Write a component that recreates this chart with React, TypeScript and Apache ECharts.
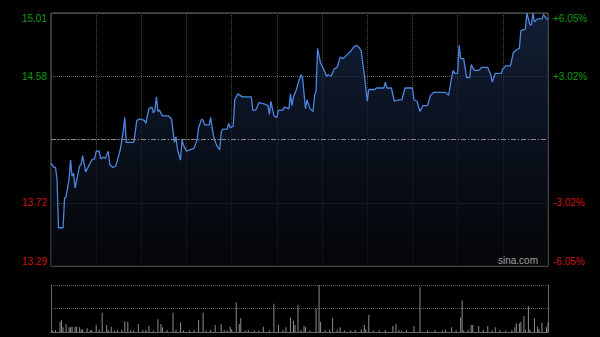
import React, { useEffect, useRef } from 'react';
import * as echarts from 'echarts';

// Intraday minute index (0 = 09:30, 150 = 12:00/13:00, 330 = 16:00)
const MINUTES = [
  0, 2, 3, 4, 5, 8, 9, 10, 12, 13, 14, 15, 16, 19, 20, 21, 23, 25, 27, 29,
  30, 32, 33, 35, 36, 38, 39, 41, 43, 46, 48, 49, 50, 52, 55, 57, 59, 62, 63, 65,
  67, 68, 69, 70, 71, 72, 74, 78, 80, 81, 82, 83, 84, 86, 87, 88, 90, 92, 95, 97,
  98, 100, 101, 102, 105, 106, 107, 108, 110, 112, 113, 114, 117, 118, 119, 121, 122, 124, 127, 133,
  134, 136, 138, 142, 144, 145, 146, 148, 150, 151, 154, 155, 158, 159, 160, 161, 163, 164, 166, 167,
  169, 170, 172, 174, 175, 176, 177, 179, 181, 183, 184, 186, 188, 190, 192, 194, 196, 199, 201, 203,
  205, 206, 208, 210, 211, 215, 216, 221, 222, 223, 226, 228, 231, 233, 235, 240, 241, 243, 245, 247,
  250, 252, 254, 262, 263, 264, 266, 267, 268, 270, 271, 272, 274, 276, 278, 279, 281, 284, 286, 290,
  292, 293, 295, 299, 300, 302, 305, 307, 309, 311, 312, 315, 316, 318, 319, 320, 321, 323, 326, 327,
  329, 330,
];
const PRICES = [
  13.99, 13.96, 13.96, 13.88, 13.55, 13.55, 13.75, 13.76, 13.88, 14.01, 13.9, 13.92, 13.82, 13.97, 13.98, 14.04, 13.93, 13.97, 14.01, 14.02,
  14.07, 14.07, 14.02, 14.03, 14.02, 14.07, 13.98, 13.96, 13.97, 14.08, 14.21, 14.3, 14.13, 14.13, 14.13, 14.28, 14.29, 14.28, 14.26, 14.36,
  14.37, 14.33, 14.35, 14.44, 14.34, 14.35, 14.31, 14.31, 14.29, 14.21, 14.13, 14.17, 14.08, 14.01, 14.15, 14.11, 14.07, 14.08, 14.09, 14.15,
  14.23, 14.29, 14.28, 14.25, 14.25, 14.3, 14.23, 14.17, 14.11, 14.08, 14.2, 14.22, 14.22, 14.26, 14.23, 14.24, 14.42, 14.46, 14.44, 14.44,
  14.35, 14.35, 14.4, 14.39, 14.38, 14.32, 14.41, 14.31, 14.3, 14.35, 14.35, 14.37, 14.36, 14.46, 14.38, 14.44, 14.49, 14.53, 14.59, 14.57,
  14.36, 14.42, 14.36, 14.34, 14.45, 14.48, 14.77, 14.67, 14.63, 14.58, 14.59, 14.58, 14.63, 14.64, 14.71, 14.7, 14.72, 14.75, 14.78, 14.79,
  14.77, 14.75, 14.59, 14.41, 14.49, 14.49, 14.5, 14.5, 14.54, 14.5, 14.5, 14.41, 14.42, 14.42, 14.5, 14.5, 14.42, 14.41, 14.34, 14.38,
  14.38, 14.45, 14.47, 14.47, 14.46, 14.45, 14.57, 14.62, 14.6, 14.6, 14.79, 14.7, 14.7, 14.57, 14.57, 14.66, 14.62, 14.62, 14.64, 14.64,
  14.59, 14.54, 14.6, 14.6, 14.63, 14.65, 14.65, 14.74, 14.76, 14.77, 14.89, 14.9, 15.01, 14.93, 14.93, 15.01, 14.95, 14.97, 14.97, 15.0,
  14.97, 14.97,
];

const VOL_MINUTES = [
  1, 3, 6, 7, 8, 10, 12, 13, 14, 16, 17, 19, 20, 21, 24, 26, 27, 30, 32, 34,
  37, 38, 40, 42, 44, 47, 49, 51, 53, 55, 58, 61, 63, 65, 68, 71, 73, 74, 77, 81,
  83, 86, 88, 92, 95, 98, 101, 103, 106, 109, 113, 115, 117, 119, 120, 123, 125, 126, 129, 131,
  135, 138, 141, 145, 148, 151, 154, 156, 159, 161, 162, 164, 166, 168, 169, 172, 176, 178, 179, 182,
  185, 187, 190, 192, 195, 199, 202, 206, 208, 209, 211, 214, 218, 222, 227, 229, 231, 233, 236, 241,
  245, 250, 255, 260, 262, 266, 269, 272, 273, 274, 277, 279, 280, 284, 287, 290, 293, 295, 298, 302,
  306, 308, 309, 311, 312, 314, 315, 317, 318, 321, 323, 324, 326, 329, 330,
];
const VOLUMES = [
  30, 40, 220, 260, 100, 170, 100, 100, 110, 110, 110, 100, 50, 60, 80, 30, 40, 150, 40, 410,
  150, 40, 110, 30, 40, 40, 230, 220, 40, 30, 170, 40, 40, 130, 30, 270, 170, 100, 40, 410,
  50, 200, 30, 30, 40, 260, 410, 30, 40, 150, 170, 40, 30, 110, 60, 630, 170, 290, 30, 40,
  30, 30, 110, 30, 600, 150, 40, 100, 310, 240, 150, 570, 40, 130, 100, 30, 500, 1000, 220, 40,
  50, 290, 50, 100, 30, 30, 40, 60, 150, 60, 360, 30, 30, 40, 130, 170, 40, 30, 50, 130,
  950, 30, 40, 30, 50, 100, 30, 310, 670, 30, 40, 150, 150, 130, 40, 130, 30, 100, 40, 30,
  40, 100, 180, 180, 220, 340, 50, 550, 50, 290, 110, 60, 200, 100, 200,
];

const LEFT_TICKS = ['13.29', '13.72', '14.15', '14.58', '15.01'];
const RIGHT_TICKS = ['-6.05%', '-3.02%', '', '+3.02%', '+6.05%'];
const MID_PRICE = 14.15;
const STEP = 0.43;
const SESSION_MINUTES = 330;
const VOL_MAX = 1000;

const GREEN = '#109a10';
const RED = '#d01212';

export default function App() {
  const ref = useRef<HTMLDivElement>(null);

  useEffect(() => {
    if (!ref.current) return;
    const chart = echarts.init(ref.current, undefined, { renderer: 'svg' });

    const priceData = MINUTES.map((m, i) => [m, PRICES[i] - MID_PRICE]);
    const volData = VOL_MINUTES.map((m, i) => [m, VOLUMES[i]]);
    const idx = (v: number) => Math.round(v / STEP) + 2;

    const labelFont = {
      fontFamily: 'Liberation Sans, Arial, sans-serif',
      fontSize: 10,
    };

    chart.setOption({
      animation: false,
      backgroundColor: '#000000',
      grid: [
        { left: 51, right: 52, top: 13, height: 253, show: true, borderColor: '#666', borderWidth: 1, backgroundColor: 'transparent' },
        { left: 51, right: 52, top: 285, height: 47 },
      ],
      xAxis: [
        {
          type: 'value', gridIndex: 0, min: 0, max: SESSION_MINUTES, interval: 30,
          axisLine: { show: false }, axisTick: { show: false }, axisLabel: { show: false },
          splitLine: { show: true, lineStyle: { color: '#4a4a4a', type: 'dotted', width: 1 } },
        },
        {
          type: 'value', gridIndex: 1, min: 0, max: SESSION_MINUTES,
          axisLine: { show: true, onZero: false, lineStyle: { color: '#666', width: 1 } },
          axisTick: { show: false }, axisLabel: { show: false }, splitLine: { show: false },
        },
      ],
      yAxis: [
        {
          type: 'value', gridIndex: 0, position: 'left', min: -2 * STEP, max: 2 * STEP, interval: STEP,
          axisLine: { show: false }, axisTick: { show: false },
          axisLabel: {
            ...labelFont, margin: 4,
            verticalAlignMaxLabel: 'top', verticalAlignMinLabel: 'bottom',
            formatter: (v: number) => (idx(v) === 2 ? '' : LEFT_TICKS[idx(v)]),
            color: (v: number) => (idx(v) > 2 ? GREEN : RED),
          },
          splitLine: { show: true, lineStyle: { color: '#5a5a5a', type: 'dotted', width: 1 } },
        },
        {
          type: 'value', gridIndex: 0, position: 'right', min: -2 * STEP, max: 2 * STEP, interval: STEP,
          axisLine: { show: false }, axisTick: { show: false }, splitLine: { show: false },
          axisLabel: {
            ...labelFont, margin: 5,
            verticalAlignMaxLabel: 'top', verticalAlignMinLabel: 'bottom',
            formatter: (v: number) => RIGHT_TICKS[idx(v)],
            color: (v: number) => (idx(v) > 2 ? GREEN : RED),
          },
        },
        {
          type: 'value', gridIndex: 1, position: 'left', min: 0, max: VOL_MAX, interval: VOL_MAX / 2,
          axisLine: { show: true, lineStyle: { color: '#666', width: 1 } },
          axisTick: { show: false }, axisLabel: { show: false },
          splitLine: { show: true, lineStyle: { color: '#5a5a5a', type: 'dotted', width: 1 } },
        },
        {
          type: 'value', gridIndex: 1, position: 'right', min: 0, max: VOL_MAX,
          axisLine: { show: true, lineStyle: { color: '#666', width: 1 } },
          axisTick: { show: false }, axisLabel: { show: false }, splitLine: { show: false },
        },
      ],
      series: [
        {
          type: 'line', xAxisIndex: 0, yAxisIndex: 0, data: priceData,
          showSymbol: false, symbol: 'none',
          lineStyle: { color: '#4d86e0', width: 1.3 },
          areaStyle: {
            origin: 'start',
            color: new echarts.graphic.LinearGradient(0, 0, 0, 1, [
              { offset: 0, color: '#1a2c4c' },
              { offset: 0.5, color: '#0e1729' },
              { offset: 1, color: '#06080b' },
            ]),
          },
          markLine: {
            silent: true, symbol: 'none', animation: false,
            label: { show: false },
            lineStyle: { color: '#8a8a8a', type: [5, 2, 1, 2], width: 1 },
            data: [{ yAxis: 0 }],
          },
          z: 3,
        },
        {
          type: 'bar', xAxisIndex: 1, yAxisIndex: 2, data: volData,
          barWidth: 1, itemStyle: { color: '#8c8c8c' }, z: 3,
        },
      ],
      graphic: [
        {
          type: 'text', right: 62, top: 255, z: 10,
          style: { text: 'sina.com', fill: '#a0a0a0', font: '10px Liberation Sans, Arial, sans-serif' },
        },
      ],
    });

    return () => chart.dispose();
  }, []);

  return <div ref={ref} style={{ position: 'fixed', left: 0, top: 0, width: 600, height: 337 }} />;
}
